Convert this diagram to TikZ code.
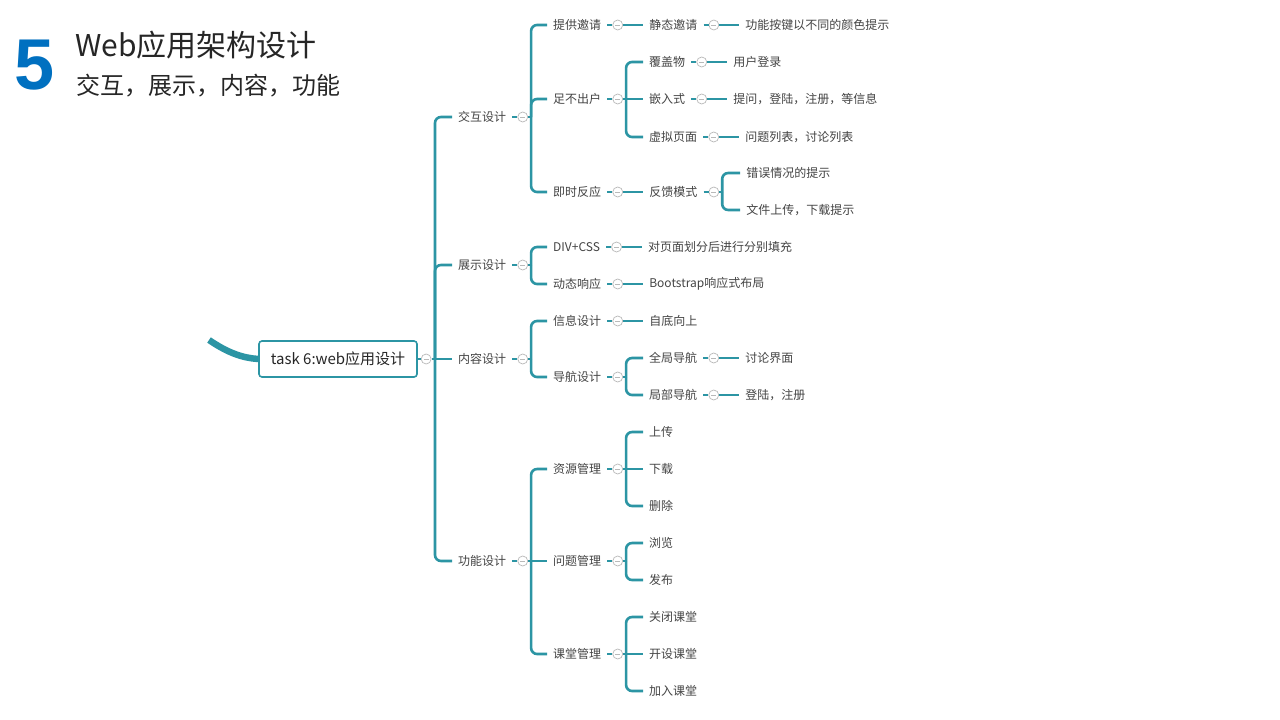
\documentclass[tikz,border=0pt]{standalone}
\usepackage{fontspec}
\setmainfont{Noto Sans CJK SC}
\newfontfamily\numfont{Liberation Sans}
\usepackage{tikz}
\usetikzlibrary{positioning,calc}

\definecolor{mmteal}{RGB}{44,149,164}
\definecolor{mmtext}{RGB}{68,68,68}
\definecolor{mmfold}{RGB}{185,185,185}
\definecolor{numblue}{RGB}{0,112,192}
\definecolor{titlegray}{RGB}{38,38,38}

\tikzset{
  topic/.style={anchor=west, inner xsep=6pt, inner ysep=2pt, text=mmtext, font=\fontsize{12}{14}\selectfont},
  rootbox/.style={draw=mmteal, line width=1.6pt, rounded corners=3pt, fill=white, minimum width=158pt, minimum height=36pt, inner sep=0pt, text=titlegray, font=\fontsize{15}{18}\selectfont},
  fold/.style={circle, draw=mmfold, fill=white, line width=0.7pt, minimum size=10pt, inner sep=0pt,
    path picture={\draw[mmfold, line width=0.7pt] ([xshift=-2.4pt]path picture bounding box.center) -- ([xshift=2.4pt]path picture bounding box.center);}},
  branch/.style={draw=mmteal, line width=2.6pt},
  elbow/.style={branch, rounded corners=6pt},
}

\begin{document}
\begin{tikzpicture}[x=1pt,y=-1pt]
% Page
\useasboundingbox[fill=white] (0,0) rectangle (1280,720);

% Heading
\node[font=\numfont\bfseries\fontsize{72}{72}\selectfont, text=numblue, inner sep=0pt] (num) at (35,65) {5};
\node[anchor=west, inner sep=0pt, text=titlegray, font=\fontsize{30}{36}\selectfont] (title) at (75,45) {Web应用架构设计};
\node[anchor=west, inner sep=0pt, text=titlegray, font=\fontsize{24}{28}\selectfont] (subtitle) at (76,86) {交互，展示，内容，功能};

% Root
\node[rootbox] (root) at (338,359) {task 6:web应用设计};
\coordinate (hub) at (209,340);
\draw[mmteal, line width=6.5pt] (hub) .. controls (228,353) and (243,358) .. (root.west);
\node[fold, right=3pt of root] (froot) {};
\draw[branch] (root.east) -- (froot.west);
\draw[branch] (froot.east) -- ++(3.5,0) coordinate (jroot);

% Level 1
\node[topic] (inter) at (452,117) {交互设计};
\node[topic] (disp) at (452,265) {展示设计};
\node[topic] (cont) at (452,359) {内容设计};
\node[topic] (func) at (452,561) {功能设计};

% Level 2
\node[topic] (invite) at (547,25) {提供邀请};
\node[topic] (stay) at (547,99) {足不出户};
\node[topic] (instant) at (547,192) {即时反应};
\node[topic] (divcss) at (547,247) {DIV+CSS};
\node[topic] (dyn) at (547,284) {动态响应};
\node[topic] (info) at (547,321) {信息设计};
\node[topic] (nav) at (547,377) {导航设计};
\node[topic] (res) at (547,469) {资源管理};
\node[topic] (ques) at (547,561) {问题管理};
\node[topic] (cls) at (547,654) {课堂管理};

\foreach \n in {inter,disp,cont,func,invite,stay,instant,divcss,dyn,info,nav,res,ques,cls}{
  \node[fold, right=5pt of \n] (f\n) {};
  \draw[branch] (\n.east) -- (f\n.west);
  \draw[branch] (f\n.east) -- ++(3,0) coordinate (j\n);
}

% Level 3
\node[topic, right=20pt of finvite] (static) {静态邀请};
\node[topic] (cover) at (643,62) {覆盖物};
\node[topic] (embed) at (643,99) {嵌入式};
\node[topic] (virt) at (643,137) {虚拟页面};
\node[topic, right=20pt of finstant] (feed) {反馈模式};
\node[topic, right=20pt of fdivcss] (split) {对页面划分后进行分别填充};
\node[topic, right=20pt of fdyn] (boot) {Bootstrap响应式布局};
\node[topic, right=20pt of finfo] (bottom) {自底向上};
\node[topic] (glob) at (643,358) {全局导航};
\node[topic] (loc) at (643,395) {局部导航};
\node[topic] (up) at (643,432) {上传};
\node[topic] (down) at (643,469) {下载};
\node[topic] (del) at (643,506) {删除};
\node[topic] (browse) at (643,543) {浏览};
\node[topic] (post) at (643,580) {发布};
\node[topic] (close) at (643,617) {关闭课堂};
\node[topic] (open) at (643,654) {开设课堂};
\node[topic] (join) at (643,691) {加入课堂};

\foreach \n in {static,cover,embed,virt,feed,glob,loc}{
  \node[fold, right=5pt of \n] (f\n) {};
  \draw[branch] (\n.east) -- (f\n.west);
  \draw[branch] (f\n.east) -- ++(3,0) coordinate (j\n);
}

% Level 4
\node[topic, right=20pt of fstatic] (keycolor) {功能按键以不同的颜色提示};
\node[topic, right=20pt of fcover] (login) {用户登录};
\node[topic, right=20pt of fembed] (askinfo) {提问，登陆，注册，等信息};
\node[topic, right=20pt of fvirt] (lists) {问题列表，讨论列表};
\node[topic] (err) at ($(jfeed)+(18,-19)$) {错误情况的提示};
\node[topic] (file) at ($(jfeed)+(18,18)$) {文件上传，下载提示};
\node[topic, right=20pt of fglob] (forum) {讨论界面};
\node[topic, right=20pt of floc] (reg) {登陆，注册};

% Branches
\foreach \a/\b in {root/inter,root/disp,root/func,inter/invite,inter/stay,inter/instant,disp/divcss,disp/dyn,cont/info,cont/nav,func/res,func/cls,stay/cover,stay/virt,feed/err,feed/file,nav/glob,nav/loc,res/up,res/del,ques/browse,ques/post,cls/close,cls/join}
  \draw[elbow] (j\a) |- (\b.west);
\foreach \a/\b in {root/cont,func/ques,stay/embed,res/down,cls/open}
  \draw[branch] (j\a) -- (\b.west);
\foreach \a/\b in {invite/static,static/keycolor,instant/feed,divcss/split,dyn/boot,info/bottom,cover/login,embed/askinfo,virt/lists,glob/forum,loc/reg}
  \draw[branch] (f\a.east) -- (\b.west);
\end{tikzpicture}
\end{document}
